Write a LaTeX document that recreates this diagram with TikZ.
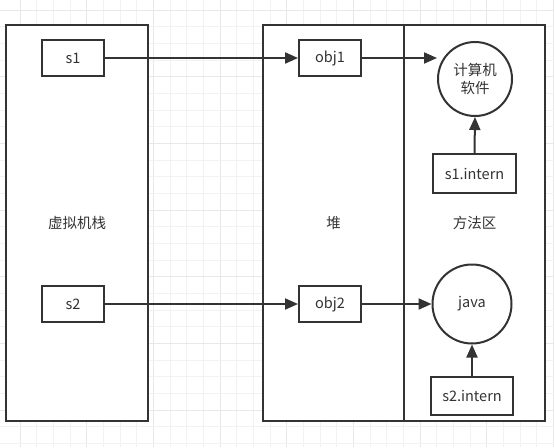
\documentclass[tikz,border=0pt]{standalone}
\usepackage{fontspec}
\setmainfont{Noto Sans CJK SC}
\usetikzlibrary{arrows.meta}
\definecolor{edge}{HTML}{333333}
\definecolor{gridminor}{HTML}{F2F2F2}
\definecolor{gridmajor}{HTML}{E8E8E8}
\tikzset{
  region/.style={draw=edge, line width=2pt, fill=white, minimum width=#1, minimum height=396pt, inner sep=0pt},
  cell/.style={draw=edge, line width=2pt, fill=white, minimum width=62pt, minimum height=36pt, inner sep=0pt, font=\fontsize{14.5}{17}\selectfont, text=edge},
  icell/.style={draw=edge, line width=2pt, fill=white, minimum width=83pt, minimum height=39pt, inner sep=0pt, font=\fontsize{14.5}{17}\selectfont, text=edge},
  ball/.style={draw=edge, line width=2pt, fill=white, circle, minimum size=#1, inner sep=0pt, align=center, font=\fontsize{14.5}{18}\selectfont, text=edge},
  lbl/.style={font=\fontsize{14.5}{17}\selectfont, text=edge},
  conn/.style={draw=edge, line width=2pt, -{Triangle[length=13pt,width=11pt]}},
}
\begin{document}
\begin{tikzpicture}[x=1pt,y=-1pt]
\useasboundingbox (0,0) rectangle (554,447);
\fill[white] (0,0) rectangle (554,447);
% grid
\foreach \i in {0,...,32} {
  \pgfmathsetmacro\gx{20+16.6667*\i}
  \pgfmathtruncatemacro\m{mod(\i,4)}
  \ifnum\m=0 \draw[gridmajor, line width=0.8pt] (\gx,0) -- (\gx,447);
  \else \draw[gridminor, line width=0.8pt] (\gx,0) -- (\gx,447); \fi
}
\foreach \i in {0,...,26} {
  \pgfmathsetmacro\gy{10+16.6667*\i}
  \pgfmathtruncatemacro\m{mod(\i,4)}
  \ifnum\m=0 \draw[gridmajor, line width=0.8pt] (0,\gy) -- (554,\gy);
  \else \draw[gridminor, line width=0.8pt] (0,\gy) -- (554,\gy); \fi
}
% regions
\node[region=142pt] (stack) at (77,223) {};
\node[region=141pt] (heap) at (333.5,223) {};
\node[region=141pt] (method) at (474.5,223) {};
\node[lbl] (stacklbl) at (77,223) {虚拟机栈};
\node[lbl] (heaplbl) at (333.5,223) {堆};
\node[lbl] (methodlbl) at (474.5,223) {方法区};
% cells
\node[cell] (s1) at (73,58) {s1};
\node[cell] (s2) at (73,304) {s2};
\node[cell] (obj1) at (330,58) {obj1};
\node[cell] (obj2) at (330,304) {obj2};
\node[ball=74pt] (c1) at (475,79) {计算机\\软件};
\node[ball=79pt] (c2) at (472,304) {java};
\node[icell] (i1) at (474.5,173.5) {s1.intern};
\node[icell, minimum width=82pt, minimum height=38pt] (i2) at (472,396) {s2.intern};
% connectors
\draw[conn] (s1.east) -- (obj1.west);
\draw[conn] (s2.east) -- (obj2.west);
\draw[conn] (obj1.east) -- (c1.west |- obj1.east);
\draw[conn] (obj2.east) -- (c2.west |- obj2.east);
\draw[conn] (i1.north) -- (c1.south);
\draw[conn] (i2.north) -- (c2.south);
\end{tikzpicture}
\end{document}
